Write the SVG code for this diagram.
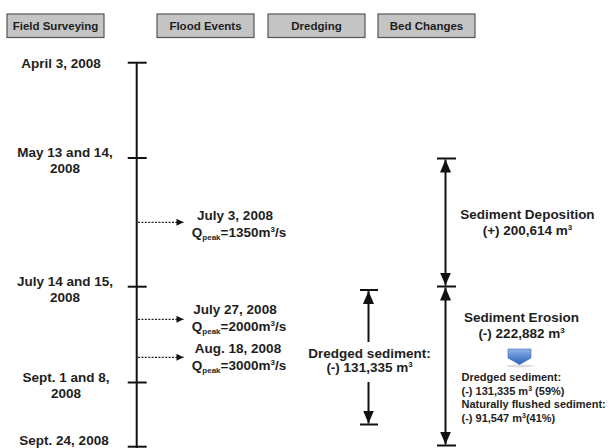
<svg xmlns="http://www.w3.org/2000/svg" width="609" height="448" viewBox="0 0 609 448">
<style>
text{font-family:"Liberation Sans",Arial,sans-serif;font-weight:bold;fill:#1e1e1e}
.h{font-size:11.5px;text-anchor:middle}
.t{font-size:13.5px;text-anchor:middle}
.s{font-size:11px}
.box{fill:#c4c4c4;stroke:#555;stroke-width:1.2}
.ln{stroke:#111;stroke-width:2;fill:none}
.dot{stroke:#222;stroke-width:1.3;stroke-dasharray:2 1.4;fill:none}
.sup{font-size:8px}
</style>
<defs>
<marker id="ah" viewBox="0 0 10 10" refX="10" refY="5" markerWidth="8" markerHeight="7" markerUnits="userSpaceOnUse" orient="auto"><path d="M0,0 L10,5 L0,10 z" fill="#111"/></marker>
<marker id="big" viewBox="0 0 13 11" refX="13" refY="5.5" markerWidth="13" markerHeight="11" markerUnits="userSpaceOnUse" orient="auto"><path d="M0,0 L13,5.5 L0,11 z" fill="#111"/></marker>
<linearGradient id="bg" x1="0" y1="0" x2="0" y2="1"><stop offset="0" stop-color="#8db4ea"/><stop offset="1" stop-color="#2c5fb5"/></linearGradient>
</defs>

<g id="headers">
<g id="hdr-field"><rect class="box" x="7" y="14" width="97" height="23.5"/><text class="h" x="55.5" y="30">Field Surveying</text></g>
<g id="hdr-flood"><rect class="box" x="157" y="14" width="97" height="23.5"/><text class="h" x="205.5" y="30">Flood Events</text></g>
<g id="hdr-dredge"><rect class="box" x="268" y="14" width="97" height="23.5"/><text class="h" x="316.5" y="30">Dredging</text></g>
<g id="hdr-bed"><rect class="box" x="378" y="14" width="97" height="23.5"/><text class="h" x="426.5" y="30">Bed Changes</text></g>
</g>

<g id="connectors">
<line class="ln" x1="136.7" y1="62.7" x2="136.7" y2="448"/>
<line class="ln" x1="127.7" y1="62.7" x2="146.7" y2="62.7"/>
<line class="ln" x1="127.7" y1="158" x2="146.7" y2="158"/>
<line class="ln" x1="127.7" y1="286.7" x2="146.7" y2="286.7"/>
<line class="ln" x1="127.7" y1="382.5" x2="146.7" y2="382.5"/>
<line class="ln" x1="127.7" y1="446.7" x2="146.7" y2="446.7"/>
<line class="dot" x1="138" y1="222.3" x2="183.5" y2="222.3" marker-end="url(#ah)"/>
<line class="dot" x1="138" y1="319.3" x2="183.5" y2="319.3" marker-end="url(#ah)"/>
<line class="dot" x1="138" y1="357.3" x2="183.5" y2="357.3" marker-end="url(#ah)"/>
<line class="ln" x1="360" y1="290" x2="378" y2="290"/>
<line class="ln" x1="368.5" y1="342" x2="368.5" y2="291" marker-end="url(#big)"/>
<line class="ln" x1="368.5" y1="382" x2="368.5" y2="423.5" marker-end="url(#big)"/>
<line class="ln" x1="360" y1="424.5" x2="378" y2="424.5"/>
<line class="ln" x1="437" y1="158.5" x2="456" y2="158.5"/>
<line class="ln" x1="437" y1="286.5" x2="456" y2="286.5"/>
<line class="ln" x1="437" y1="445.5" x2="456" y2="445.5"/>
<line class="ln" x1="445.5" y1="222" x2="445.5" y2="159.5" marker-end="url(#big)"/>
<line class="ln" x1="445.5" y1="222" x2="445.5" y2="285.5" marker-end="url(#big)"/>
<line class="ln" x1="445.5" y1="365" x2="445.5" y2="287.5" marker-end="url(#big)"/>
<line class="ln" x1="445.5" y1="365" x2="445.5" y2="444.5" marker-end="url(#big)"/>
</g>

<g id="survey-dates">
<g id="d-apr3"><text class="t" x="61" y="68">April 3, 2008</text></g>
<g id="d-may"><text class="t" x="65" y="157">May 13 and 14,</text><text class="t" x="65" y="173">2008</text></g>
<g id="d-jul"><text class="t" x="65" y="286">July 14 and 15,</text><text class="t" x="65" y="302">2008</text></g>
<g id="d-sep1"><text class="t" x="66" y="382">Sept. 1 and 8,</text><text class="t" x="66" y="398">2008</text></g>
<g id="d-sep24"><text class="t" x="64" y="445">Sept. 24, 2008</text></g>
</g>

<g id="floods">
<g id="f-jul3"><text class="t" x="235" y="220">July 3, 2008</text><text class="t" x="239" y="236.5">Q<tspan class="sup" dy="3">peak</tspan><tspan dy="-3">=1350m</tspan><tspan class="sup" dy="-5">3</tspan><tspan dy="5">/s</tspan></text></g>
<g id="f-jul27"><text class="t" x="235" y="314">July 27, 2008</text><text class="t" x="239" y="331">Q<tspan class="sup" dy="3">peak</tspan><tspan dy="-3">=2000m</tspan><tspan class="sup" dy="-5">3</tspan><tspan dy="5">/s</tspan></text></g>
<g id="f-aug18"><text class="t" x="238" y="352.5">Aug. 18, 2008</text><text class="t" x="239" y="369.5">Q<tspan class="sup" dy="3">peak</tspan><tspan dy="-3">=3000m</tspan><tspan class="sup" dy="-5">3</tspan><tspan dy="5">/s</tspan></text></g>
</g>

<g id="dredged">
<text class="t" x="369.5" y="357.5">Dredged sediment:</text>
<text class="t" x="369.5" y="372">(-) 131,335 m<tspan class="sup" dy="-5">3</tspan></text>
</g>

<g id="deposition">
<text class="t" x="527.5" y="219">Sediment Deposition</text>
<text class="t" x="527.5" y="234.5">(+) 200,614 m<tspan class="sup" dy="-5">3</tspan></text>
</g>

<g id="erosion">
<text class="t" x="521.5" y="322">Sediment Erosion</text>
<text class="t" x="521.5" y="338">(-) 222,882 m<tspan class="sup" dy="-5">3</tspan></text>
<ellipse cx="520" cy="366" rx="14" ry="1.5" fill="#ddd"/>
<polygon points="508,349 531,349 531,358 519.5,364.5 508,358" fill="url(#bg)" stroke="#3a6bbd" stroke-width="0.6"/>
<text class="s" x="461.5" y="381">Dredged sediment:</text>
<text class="s" x="461.5" y="394.5">(-) 131,335 m<tspan class="sup" dy="-4" style="font-size:7px">3</tspan><tspan dy="4"> (59%)</tspan></text>
<text class="s" x="461.5" y="408">Naturally flushed sediment:</text>
<text class="s" x="461.5" y="421.5">(-) 91,547 m<tspan class="sup" dy="-4" style="font-size:7px">3</tspan><tspan dy="4">(41%)</tspan></text>
</g>
</svg>
